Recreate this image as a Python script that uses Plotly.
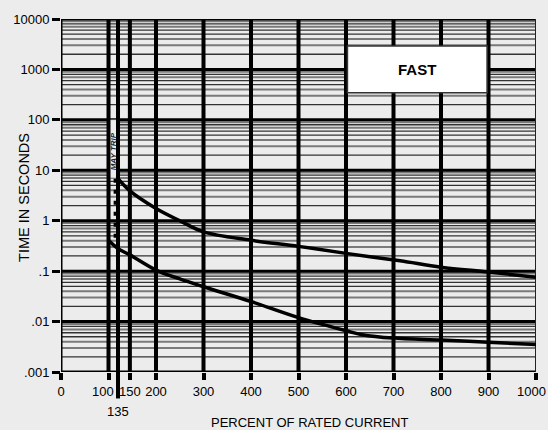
import math
import plotly.graph_objects as go

# ---------------- data ----------------
upper_x = [120, 145, 200, 250, 300, 400, 500, 600, 714, 800, 900, 1000]
upper_y = [6.8, 3.9, 1.75, 1.0, 0.6, 0.41, 0.31, 0.225, 0.16, 0.12, 0.096, 0.076]

lower_x = [100, 120, 145, 200, 250, 300, 400, 500, 600, 634, 700, 800, 900, 1000]
lower_y = [0.41, 0.28, 0.21, 0.105, 0.07, 0.049, 0.025, 0.012, 0.0066, 0.0055, 0.0047, 0.0043, 0.0039, 0.0035]

trip_x = [115, 115]
trip_y = [6.8, 0.33]

x_tick_vals = [0, 100, 120, 145, 200, 300, 400, 500, 600, 700, 800, 900, 1000]
x_tick_text = ["0", "", "", "150", "200", "300", "400", "500", "600", "700", "800", "900", ""]
# labels that the reference offsets from their lines
offset_labels = ["100", "135", "1000"]
offset_label_x = [88, 120, 1000]
offset_label_row = [0, 1, 0]
offset_label_anchor = ["center", "center", "right"]

y_tick_vals = [0.001, 0.01, 0.1, 1, 10, 100, 1000, 10000]
y_tick_text = [".001", ".01", ".1", "1", "10", "100", "1000", "10000"]

decades = [0.001, 0.01, 0.1, 1, 10, 100, 1000]
minor_mult = [2, 3, 4, 5, 6, 7, 8, 9]
minor_color = ["#333", "#7a7a7a", "#7a7a7a", "#333", "#333", "#7a7a7a", "#333", "#7a7a7a"]
minor_width = [1.3, 2, 2, 1.3, 1.3, 2, 1.3, 2]

vert_lines = [100, 120, 145, 200, 300, 400, 500, 600, 700, 800, 900]
long_tick_x = 120

may_trip_box = dict(x0=100, x1=120, y0=7.1, y1=100)
fast_box = dict(x0=603, x1=897, y0=343, y1=2917)
fast_label_pos = (750, 1000)
may_trip_label_pos = (110, 24)

FONT = "Liberation Sans, Arial, sans-serif"
BG = "#ececec"

shapes = []
# minor horizontal lines
for d in decades:
    for m, c, w in zip(minor_mult, minor_color, minor_width):
        shapes.append(dict(type="line", xref="x", yref="y", x0=0, x1=1000, y0=d * m, y1=d * m,
                           line=dict(color=c, width=w), layer="below"))
# major horizontal lines
for v in y_tick_vals:
    shapes.append(dict(type="line", xref="x", yref="y", x0=0, x1=1000, y0=v, y1=v,
                       line=dict(color="black", width=3), layer="below"))
# MAY TRIP box (covers grid)
shapes.append(dict(type="rect", xref="x", yref="y", **may_trip_box,
                   fillcolor=BG, line=dict(color="#bbb", width=0.5), layer="below"))
# vertical lines
for v in vert_lines:
    shapes.append(dict(type="line", xref="x", yref="y", x0=v, x1=v, y0=0.001, y1=10000,
                       line=dict(color="black", width=4), layer="below"))
# left axis line and right border
shapes.append(dict(type="line", xref="x", yref="y", x0=0, x1=0, y0=0.001, y1=10000,
                   line=dict(color="black", width=3), layer="below"))
shapes.append(dict(type="line", xref="x", yref="y", x0=1000, x1=1000, y0=0.001, y1=10000,
                   line=dict(color="#222", width=2), layer="below"))
# long tick for 135
shapes.append(dict(type="line", xref="x", yref="paper", x0=long_tick_x, x1=long_tick_x,
                   y0=0, y1=-0.075, line=dict(color="black", width=4)))
# FAST box
shapes.append(dict(type="rect", xref="x", yref="y", **fast_box,
                   fillcolor="white", line=dict(color="#333", width=1.5), layer="below"))

fig = go.Figure()
fig.add_trace(go.Scatter(x=upper_x, y=upper_y, mode="lines",
                         line=dict(color="black", width=3.5, shape="spline", smoothing=1.0),
                         showlegend=False, hoverinfo="skip"))
fig.add_trace(go.Scatter(x=lower_x, y=lower_y, mode="lines",
                         line=dict(color="black", width=3.5, shape="spline", smoothing=1.0),
                         showlegend=False, hoverinfo="skip"))
fig.add_trace(go.Scatter(x=trip_x, y=trip_y, mode="lines",
                         line=dict(color="black", width=4, dash="4px,7px"),
                         showlegend=False, hoverinfo="skip"))

annotations = [
    # annotations on a log axis take the exponent as their y
    dict(text="<b>FAST</b>", x=fast_label_pos[0], y=math.log10(fast_label_pos[1]),
         xref="x", yref="y", showarrow=False,
         font=dict(family=FONT, size=15, color="black")),
    dict(text="<b><i>MAY TRIP</i></b>", x=may_trip_label_pos[0], y=math.log10(may_trip_label_pos[1]),
         xref="x", yref="y", showarrow=False,
         textangle=-90, font=dict(family=FONT, size=8, color="#222")),
    dict(text="TIME IN SECONDS", x=-0.099, y=0.496, xref="paper", yref="paper", showarrow=False,
         textangle=-90, font=dict(family=FONT, size=14.5, color="black")),
    dict(text="PERCENT OF RATED CURRENT", x=0.524, y=-0.117, xref="paper", yref="paper",
         showarrow=False, yanchor="top", font=dict(family=FONT, size=13, color="black")),
]
for txt, xv, row, anc in zip(offset_labels, offset_label_x, offset_label_row, offset_label_anchor):
    annotations.append(dict(text=txt, x=xv, y=-0.027 - 0.059 * row, xref="x", yref="paper",
                            showarrow=False, xanchor=anc, yanchor="top",
                            xshift=12 if anc == "right" else 0,
                            font=dict(family=FONT, size=13, color="black")))

fig.update_layout(
    width=548, height=430,
    margin=dict(l=61, r=12, t=19, b=58),
    paper_bgcolor=BG, plot_bgcolor=BG,
    shapes=shapes, annotations=annotations,
    font=dict(family=FONT, size=13, color="black"),
    xaxis=dict(range=[0, 1000], showgrid=False, zeroline=False, showline=False,
               tickmode="array", tickvals=x_tick_vals, ticktext=x_tick_text,
               ticks="outside", ticklen=7, tickwidth=4, tickcolor="black",
               tickangle=0, automargin=False,
               tickfont=dict(family=FONT, size=13), fixedrange=True),
    yaxis=dict(type="log", range=[-3, 4], showgrid=False, zeroline=False, showline=False,
               tickmode="array", tickvals=y_tick_vals, ticktext=y_tick_text,
               ticks="outside", ticklen=8, tickwidth=3, tickcolor="black",
               automargin=False,
               tickfont=dict(family=FONT, size=13), fixedrange=True),
)

fig.write_html("out.html", config={"displayModeBar": False},
               post_script="document.body.style.margin='0';document.body.style.overflow='hidden';")
